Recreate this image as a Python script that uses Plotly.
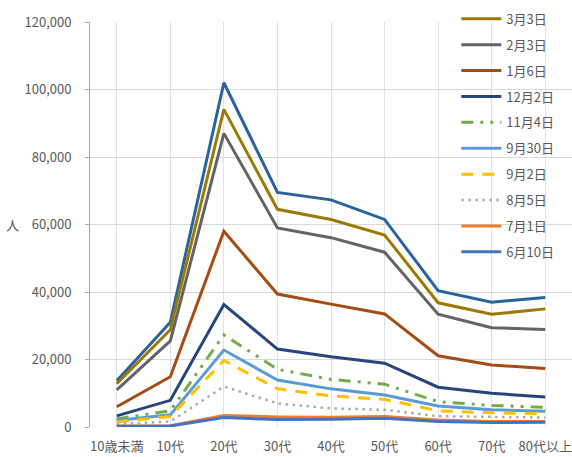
import plotly.graph_objects as go

# Age groups on the x axis
age_groups = ["10歳未満", "10代", "20代", "30代", "40代", "50代", "60代", "70代", "80代以上"]

# Cumulative counts per age group at each reporting date (people)
mar31 = [13700, 31000, 102000, 69500, 67300, 61500, 40400, 37000, 38400]
mar03 = [12800, 28800, 94100, 64500, 61500, 56900, 36800, 33400, 35000]
feb03 = [11000, 25500, 87000, 59000, 56100, 51800, 33400, 29400, 28900]
jan06 = [6000, 14900, 58000, 39400, 36400, 33500, 21100, 18400, 17300]
dec02 = [3300, 7900, 36300, 23100, 20800, 18900, 11800, 10000, 8900]
nov04 = [2400, 4800, 27300, 17100, 14100, 12700, 7500, 6400, 5800]
sep30 = [1900, 3600, 22800, 13900, 11300, 9500, 6200, 5100, 4700]
sep02 = [1500, 3100, 19700, 11300, 9200, 8200, 4800, 4200, 3900]
aug05 = [900, 1600, 12000, 7000, 5500, 5100, 3200, 2900, 2800]
jul01 = [300, 400, 3400, 3000, 2900, 3100, 2100, 1600, 1600]
jun10 = [200, 300, 2800, 2200, 2300, 2600, 1600, 1300, 1400]

# (name, values, colour, dash, width, shown in legend)
series = [
    ("3月31日", mar31, "#2B649A", "solid", 3, False),
    ("3月3日", mar03, "#9C7A06", "solid", 3, True),
    ("2月3日", feb03, "#646464", "solid", 3, True),
    ("1月6日", jan06, "#A44C14", "solid", 3, True),
    ("12月2日", dec02, "#27467C", "solid", 3, True),
    ("11月4日", nov04, "#70AD47", "12px,7px,3px,7px,3px,7px", 3, True),
    ("9月30日", sep30, "#5B9BD5", "solid", 3, True),
    ("9月2日", sep02, "#FFC000", "12px,9px", 3, True),
    ("8月5日", aug05, "#ABABAB", "2.5px,4.5px", 2.5, True),
    ("7月1日", jul01, "#ED7D31", "solid", 3, True),
    ("6月10日", jun10, "#4472C4", "solid", 3, True),
]

fig = go.Figure()
for i, (name, vals, color, dash, width, show) in enumerate(series):
    fig.add_trace(go.Scatter(
        x=age_groups, y=vals, name=name, mode="lines",
        line=dict(color=color, width=width, dash=dash),
        showlegend=show, legendgroup=f"g{i}",
    ))

font_family = "Noto Sans CJK JP, Noto Sans, sans-serif"
fig.update_layout(
    width=572, height=457,
    margin=dict(l=90, r=0, t=22, b=30, autoexpand=False),
    paper_bgcolor="white", plot_bgcolor="white",
    font=dict(family=font_family, size=12, color="#595959"),
    showlegend=True,
    legend=dict(
        x=0.76, y=1.045, xanchor="left", yanchor="top",
        bgcolor="rgba(0,0,0,0)", font=dict(size=13, color="#595959"),
        tracegroupgap=6, itemwidth=40, maxheight=450,
    ),
    xaxis=dict(
        type="category", range=[-0.5, 8.5],
        showgrid=True, gridcolor="#DCE1EA", gridwidth=1,
        showline=False, ticks="", zeroline=False,
        ticklabelstandoff=10,
        tickfont=dict(size=13, color="#595959"),
    ),
    yaxis=dict(
        range=[0, 120000], dtick=20000, tickformat=",d",
        showgrid=True, gridcolor="#D9D9D9", gridwidth=1,
        showline=True, linecolor="#8FAADC", linewidth=1,
        ticks="outside", ticklen=4, tickcolor="#8FAADC",
        ticklabelstandoff=11,
        zeroline=False, tickfont=dict(size=13, color="#595959"),
    ),
    annotations=[dict(
        text="人", xref="paper", yref="paper", x=-0.16, y=0.5,
        xanchor="center", yanchor="middle", showarrow=False,
        font=dict(size=13, color="#595959"),
    )],
)

fig.write_html("out.html")
